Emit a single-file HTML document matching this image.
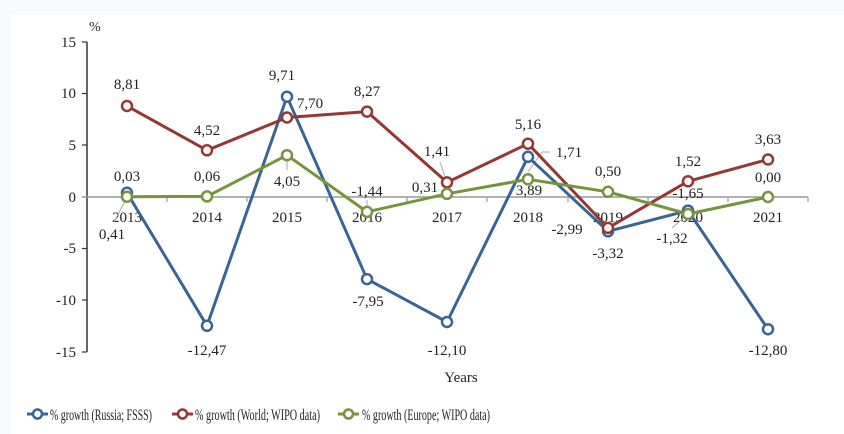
<!DOCTYPE html>
<html><head><meta charset="utf-8"><style>
html,body{margin:0;padding:0;background:#f7fafc;}
svg{display:block;font-family:"Liberation Serif",serif;}
</style></head><body>
<svg width="844" height="434" viewBox="0 0 844 434" xmlns="http://www.w3.org/2000/svg">
<rect x="10" y="15" width="834" height="419" fill="#fff"/>
<line x1="87" y1="42" x2="87" y2="352" stroke="#333" stroke-width="1.5"/>
<g stroke="#333" stroke-width="1.2">
<line x1="82" y1="42" x2="87" y2="42"/><line x1="82" y1="93.5" x2="87" y2="93.5"/><line x1="82" y1="145" x2="87" y2="145"/>
<line x1="82" y1="248.5" x2="87" y2="248.5"/><line x1="82" y1="300" x2="87" y2="300"/><line x1="82" y1="352" x2="87" y2="352"/>
</g>
<g font-size="15" fill="#222" text-anchor="end">
<text x="76" y="47">15</text><text x="76" y="98">10</text><text x="76" y="150">5</text><text x="76" y="202">0</text>
<text x="76" y="253">-5</text><text x="76" y="305">-10</text><text x="76" y="357">-15</text>
</g>
<text x="89" y="31" font-size="14" fill="#222">%</text>
<line x1="82" y1="197" x2="808" y2="197" stroke="#999" stroke-width="1.5"/>
<g stroke="#999" stroke-width="1.2">
<line x1="167" y1="197" x2="167" y2="202"/><line x1="247" y1="197" x2="247" y2="202"/><line x1="327" y1="197" x2="327" y2="202"/>
<line x1="407" y1="197" x2="407" y2="202"/><line x1="487" y1="197" x2="487" y2="202"/><line x1="568" y1="197" x2="568" y2="202"/>
<line x1="648" y1="197" x2="648" y2="202"/><line x1="728" y1="197" x2="728" y2="202"/><line x1="808" y1="197" x2="808" y2="202"/>
</g>
<g font-size="15" fill="#222" text-anchor="middle">
<text x="127" y="222">2013</text><text x="207" y="222">2014</text><text x="287" y="222">2015</text><text x="367" y="222">2016</text>
<text x="447" y="222">2017</text><text x="528" y="222">2018</text><text x="608" y="222">2019</text><text x="688" y="222">2020</text><text x="768" y="222">2021</text>
</g>
<text x="461" y="382" font-size="15" fill="#222" text-anchor="middle">Years</text>
<g stroke="#aaa" stroke-width="1" fill="none">
<line x1="127" y1="197" x2="114" y2="222"/>
<line x1="287" y1="158" x2="287" y2="170"/>
<line x1="447" y1="182" x2="440" y2="162"/>
<polyline points="528,172 542,152 550,152"/>
<line x1="688" y1="214" x2="672" y2="228"/>
<line x1="367" y1="208" x2="367" y2="200"/>
</g>
<g fill="none" stroke-width="3" stroke-linejoin="round">
<polyline stroke="#3b6496" points="127,192.8 207,325.8 287,96.7 367,279.1 447,322 528,156.8 608,231.3 688,210.6 768,329.2"/>
<polyline stroke="#953735" points="127,106 207,150.3 287,117.5 367,111.6 447,182.4 528,143.7 608,227.9 688,181.3 768,159.5"/>
<polyline stroke="#77933c" points="127,196.7 207,196.4 287,155.2 367,211.9 447,193.8 528,179.3 608,191.8 688,214 768,197"/>
</g>
<g fill="#fff" stroke-width="2.5">
<g stroke="#3b6496">
<circle cx="127" cy="192.8" r="5"/><circle cx="207" cy="325.8" r="5"/><circle cx="287" cy="96.7" r="5"/><circle cx="367" cy="279.1" r="5"/><circle cx="447" cy="322" r="5"/><circle cx="528" cy="156.8" r="5"/><circle cx="608" cy="231.3" r="5"/><circle cx="688" cy="210.6" r="5"/><circle cx="768" cy="329.2" r="5"/>
</g>
<g stroke="#953735">
<circle cx="127" cy="106" r="5"/><circle cx="207" cy="150.3" r="5"/><circle cx="287" cy="117.5" r="5"/><circle cx="367" cy="111.6" r="5"/><circle cx="447" cy="182.4" r="5"/><circle cx="528" cy="143.7" r="5"/><circle cx="608" cy="227.9" r="5"/><circle cx="688" cy="181.3" r="5"/><circle cx="768" cy="159.5" r="5"/>
</g>
<g stroke="#77933c">
<circle cx="127" cy="196.7" r="5"/><circle cx="207" cy="196.4" r="5"/><circle cx="287" cy="155.2" r="5"/><circle cx="367" cy="211.9" r="5"/><circle cx="447" cy="193.8" r="5"/><circle cx="528" cy="179.3" r="5"/><circle cx="608" cy="191.8" r="5"/><circle cx="688" cy="214" r="5"/><circle cx="768" cy="197" r="5"/>
</g>
</g>
<g font-size="15" fill="#222" text-anchor="middle">
<text x="127" y="89">8,81</text><text x="127" y="181">0,03</text><text x="112" y="239">0,41</text>
<text x="207" y="355">-12,47</text><text x="207" y="135">4,52</text><text x="207" y="181">0,06</text>
<text x="282" y="80">9,71</text><text x="310" y="108">7,70</text><text x="287" y="186">4,05</text>
<text x="367" y="96">8,27</text><text x="367" y="196">-1,44</text><text x="368" y="306">-7,95</text>
<text x="437" y="156">1,41</text><text x="425" y="192">0,31</text><text x="447" y="355">-12,10</text>
<text x="528" y="129">5,16</text><text x="569" y="157">1,71</text><text x="529" y="195">3,89</text>
<text x="608" y="176">0,50</text><text x="567" y="234">-2,99</text><text x="608" y="258">-3,32</text>
<text x="688" y="166">1,52</text><text x="688" y="198">-1,65</text><text x="672" y="243">-1,32</text>
<text x="768" y="144">3,63</text><text x="768" y="182">0,00</text><text x="768" y="355">-12,80</text>
</g>
<g stroke-width="3">
<line x1="27" y1="414" x2="48" y2="414" stroke="#3b6496"/><circle cx="37.5" cy="414" r="4.5" fill="#fff" stroke="#3b6496" stroke-width="2.5"/>
<line x1="172" y1="414" x2="193" y2="414" stroke="#953735"/><circle cx="182.5" cy="414" r="4.5" fill="#fff" stroke="#953735" stroke-width="2.5"/>
<line x1="338" y1="414" x2="359" y2="414" stroke="#77933c"/><circle cx="348.5" cy="414" r="4.5" fill="#fff" stroke="#77933c" stroke-width="2.5"/>
</g>
<g font-size="16" fill="#222">
<text x="50" y="420" textLength="102" lengthAdjust="spacingAndGlyphs">% growth (Russia; FSSS)</text>
<text x="195" y="420" textLength="125" lengthAdjust="spacingAndGlyphs">% growth (World; WIPO data)</text>
<text x="362" y="420" textLength="128" lengthAdjust="spacingAndGlyphs">% growth (Europe; WIPO data)</text>
</g>
</svg>
</body></html>
